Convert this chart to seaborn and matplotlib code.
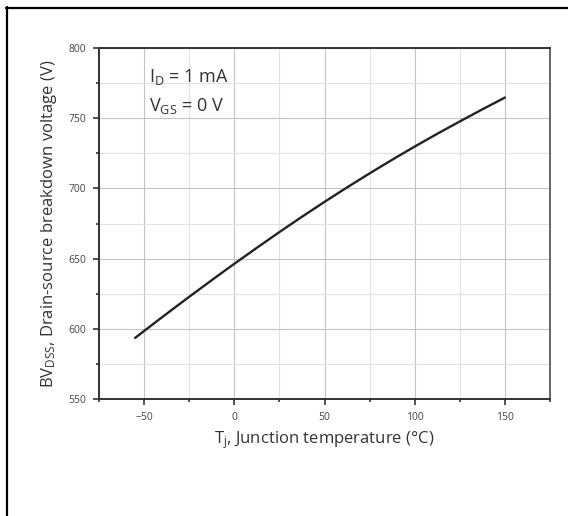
import matplotlib
matplotlib.use("Agg")
import matplotlib.pyplot as plt
from matplotlib.lines import Line2D
from matplotlib.ticker import MultipleLocator
import seaborn as sns
import pandas as pd

# Data
temperature = [-55, -40, -25, -10, 0, 12.5, 25, 37.5, 50, 62.5, 75, 87.5, 100, 112.5, 125, 137.5, 150]
bvdss = [593.5, 608.3, 622.8, 637, 646.3, 657.7, 668.9, 679.8, 690.4, 700.7, 710.7, 720.4,
         729.8, 738.9, 747.7, 756.3, 764.7]
x_ticks = [-50, 0, 50, 100, 150]
y_ticks = [550, 600, 650, 700, 750, 800]

df = pd.DataFrame({"T": temperature, "BV": bvdss})

sns.set_style("white")
plt.rcParams["font.family"] = ["Open Sans", "DejaVu Sans"]
plt.rcParams["mathtext.fontset"] = "custom"
plt.rcParams["mathtext.rm"] = "Open Sans"
plt.rcParams["mathtext.it"] = "Open Sans"
plt.rcParams["mathtext.bf"] = "Open Sans"

fig = plt.figure(figsize=(5.68, 5.16), dpi=100)
ax = fig.add_axes([99/568, 1-399/516, (550-99)/568, (399-48)/516])

sns.lineplot(data=df, x="T", y="BV", ax=ax, color="#222222", linewidth=1.7)

ax.set_xlim(-75, 175)
ax.set_ylim(550, 800)
ax.set_xticks(x_ticks)
ax.set_yticks(y_ticks)
ax.xaxis.set_minor_locator(MultipleLocator(25))
ax.yaxis.set_minor_locator(MultipleLocator(25))

ax.grid(True, which="major", color="#c4c4c4", linewidth=0.8)
ax.grid(True, which="minor", color="#e2e2e2", linewidth=0.8)
ax.set_axisbelow(True)

ax.tick_params(axis="both", which="major", direction="out", length=4, width=1.2,
               color="#333333", labelsize=7.5, labelcolor="#444444", pad=5,
               bottom=True, left=True, top=False, right=False)
ax.tick_params(axis="both", which="minor", direction="out", length=2.5, width=1.2,
               color="#333333", bottom=True, left=True, top=False, right=False)

for side in ["left", "bottom", "top"]:
    ax.spines[side].set_color("#333333")
    ax.spines[side].set_linewidth(1.4)
ax.spines["right"].set_color("#666666")
ax.spines["right"].set_linewidth(1.4)

ax.set_xlabel(r"T$_\mathregular{j}$, Junction temperature (°C)", fontsize=12, color="#333333", labelpad=5)
ax.set_ylabel(r"BV$_\mathregular{DSS}$, Drain-source breakdown voltage (V)", fontsize=12, color="#333333", labelpad=7)

ax.text(0.11, 0.918, r"I$_\mathregular{D}$ = 1 mA", transform=ax.transAxes, fontsize=13,
        color="#333333", va="center", ha="left")
ax.text(0.11, 0.836, r"V$_\mathregular{GS}$ = 0 V", transform=ax.transAxes, fontsize=13,
        color="#333333", va="center", ha="left")

# outer frame lines (top and left only)
fig.add_artist(Line2D([7/568, 7/568], [0, 1-7/516], transform=fig.transFigure, color="black", linewidth=1.6))
fig.add_artist(Line2D([6/568, 1], [1-7.5/516, 1-7.5/516], transform=fig.transFigure, color="black", linewidth=1.6))

fig.savefig("out.png", dpi=100)
